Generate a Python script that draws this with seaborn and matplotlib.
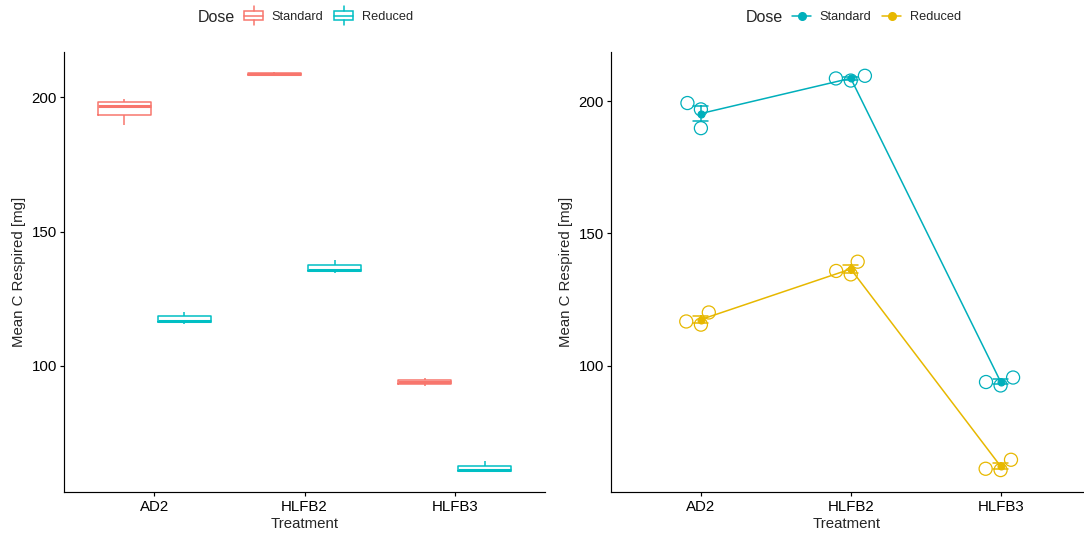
import numpy as np
import pandas as pd
import matplotlib
matplotlib.use("Agg")
import matplotlib.pyplot as plt
import seaborn as sns
from matplotlib.legend_handler import HandlerBase
from matplotlib.patches import Rectangle
from matplotlib.lines import Line2D

# ---- data ----
treatments = ["AD2", "HLFB2", "HLFB3"]
doses = ["Standard", "Reduced"]
ad2_standard = [199.3, 196.9, 189.8]
ad2_reduced = [120.1, 116.7, 115.5]
hlfb2_standard = [209.6, 208.6, 207.8]
hlfb2_reduced = [139.3, 135.8, 134.5]
hlfb3_standard = [95.5, 93.8, 92.5]
hlfb3_reduced = [64.4, 61.0, 60.5]

box_colors = ["#F8766D", "#00BFC4"]
point_colors = ["#00AFBB", "#E7B800"]

groups = [
    ("AD2", "Standard", ad2_standard),
    ("AD2", "Reduced", ad2_reduced),
    ("HLFB2", "Standard", hlfb2_standard),
    ("HLFB2", "Reduced", hlfb2_reduced),
    ("HLFB3", "Standard", hlfb3_standard),
    ("HLFB3", "Reduced", hlfb3_reduced),
]
rows = []
for t, d, vals in groups:
    for v in vals:
        rows.append({"Treatment": t, "Dose": d, "Value": v})
df = pd.DataFrame(rows)

sns.set_theme(style="ticks")
plt.rcParams["font.family"] = ["Liberation Sans", "DejaVu Sans"]

W, H = 1084, 533
fig = plt.figure(figsize=(W / 100, H / 100), dpi=100)
ax1 = fig.add_axes([64 / W, 1 - 491.5 / H, (545 - 64) / W, (491.5 - 52) / H])
ax2 = fig.add_axes([611 / W, 1 - 491.5 / H, (1083 - 611) / W, (491.5 - 52) / H])

# ---- left: boxplots ----
sns.boxplot(data=df, x="Treatment", y="Value", hue="Dose", order=treatments,
            hue_order=doses, palette=box_colors, fill=False, saturation=1,
            width=0.8, gap=0.12, linewidth=1.1, whis=1.5,
            medianprops={"linewidth": 2.2}, capprops={"linewidth": 0},
            legend=False, ax=ax1)

# ---- right: swarm + mean/se ----
n_before = len(ax2.collections)
sns.swarmplot(data=df, x="Treatment", y="Value", hue="Dose", order=treatments,
              hue_order=doses, palette=point_colors, size=9.4, dodge=False,
              legend=False, ax=ax2, zorder=2)
for coll in ax2.collections[n_before:]:
    fc = coll.get_facecolors()
    coll.set_edgecolors(fc)
    coll.set_facecolors("none")
    coll.set_linewidths(0.9)

sns.pointplot(data=df, x="Treatment", y="Value", hue="Dose", order=treatments,
              hue_order=doses, palette=point_colors, errorbar="se", capsize=0.1,
              markers="o", markersize=5, linewidth=1.1,
              err_kws={"linewidth": 1.1}, legend=False, ax=ax2)

ax1.set_xlim(-0.6, 2.6)
ax1.set_ylim(53.1, 216.9)
ax2.set_xlim(-0.6, 2.55)
ax2.set_ylim(52.4, 218.6)
ax1.set_yticks([100, 150, 200])
ax2.set_yticks([100, 150, 200])

for ax in (ax1, ax2):
    sns.despine(ax=ax)
    for s in ("left", "bottom"):
        ax.spines[s].set_color("black")
        ax.spines[s].set_linewidth(0.85)
    ax.tick_params(axis="both", length=3, width=0.85, color="black",
                   labelsize=10.8, labelcolor="black")
    ax.tick_params(axis="y", pad=2)
    ax.tick_params(axis="x", pad=3)
    ax.set_xlabel("Treatment", fontsize=10.8, labelpad=2)
    ax.set_ylabel("Mean C Respired [mg]", fontsize=10.8, labelpad=4)


# ---- legends ----
class BoxHandler(HandlerBase):
    def create_artists(self, legend, orig_handle, xdescent, ydescent,
                       width, height, fontsize, trans):
        c = orig_handle.get_color()
        x0, y0 = -xdescent, -ydescent
        rect = Rectangle((x0, y0), width, height, fill=False, edgecolor=c,
                         lw=1.1, transform=trans)
        med = Line2D([x0, x0 + width], [y0 + height / 2] * 2, color=c,
                     lw=1.1, transform=trans)
        w1 = Line2D([x0 + width / 2] * 2, [y0 + height, y0 + height * 1.55],
                    color=c, lw=1.1, transform=trans)
        w2 = Line2D([x0 + width / 2] * 2, [y0, y0 - height * 0.55],
                    color=c, lw=1.1, transform=trans)
        return [rect, med, w1, w2]


ly = 1 - 17 / H
box_handles = [Line2D([], [], color=c) for c in box_colors]
fig.text(198 / W, ly, "Dose", fontsize=11.5, va="center", ha="left")
fig.legend(box_handles, doses, loc="center left",
           bbox_to_anchor=(244 / W, ly), ncol=2, frameon=False, fontsize=9.2,
           handler_map={Line2D: BoxHandler()}, handlelength=1.5,
           handleheight=0.7, handletextpad=0.65, columnspacing=0.85,
           borderpad=0, borderaxespad=0)

pt_handles = [Line2D([], [], color=c, marker="o", markersize=5.5, lw=1.1)
              for c in point_colors]
fig.text(746 / W, ly, "Dose", fontsize=11.5, va="center", ha="left")
fig.legend(pt_handles, doses, loc="center left",
           bbox_to_anchor=(792 / W, ly), ncol=2, frameon=False, fontsize=9.2,
           handlelength=1.5, handletextpad=0.65, columnspacing=0.85,
           borderpad=0, borderaxespad=0)

fig.savefig("out.png", dpi=100)
